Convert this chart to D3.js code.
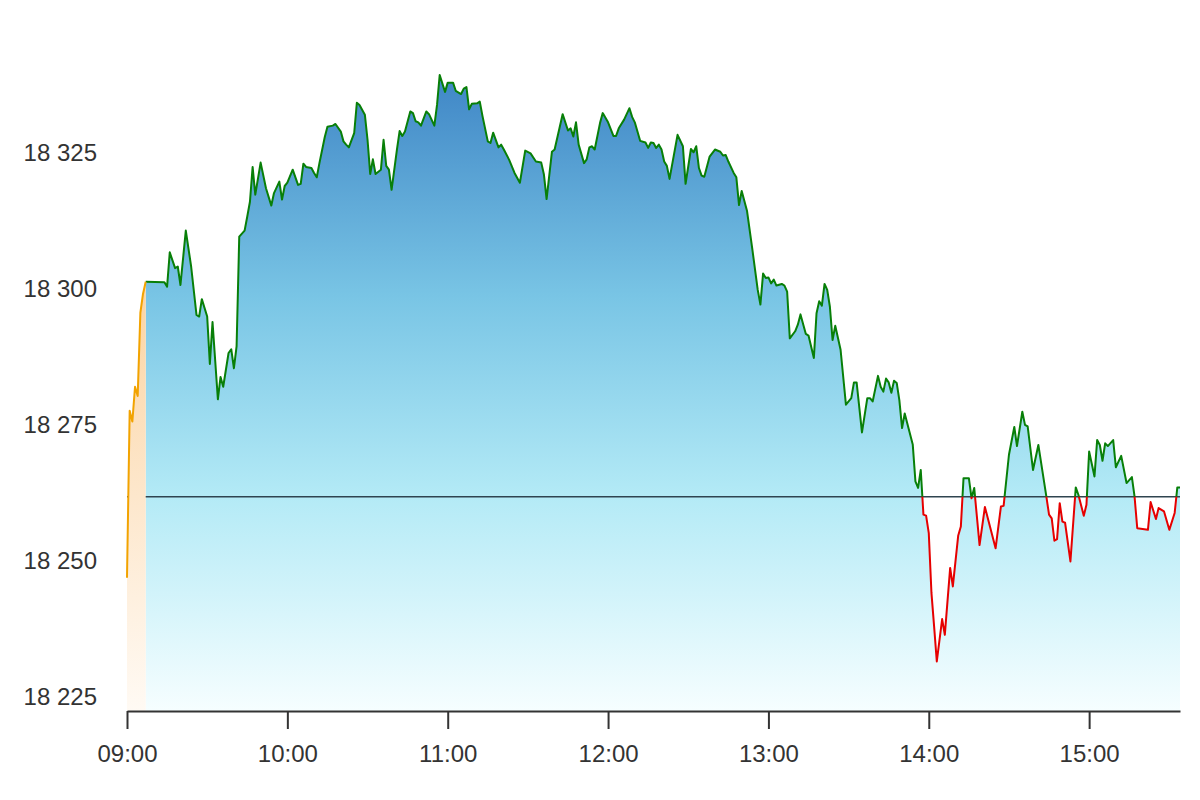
<!DOCTYPE html>
<html>
<head>
<meta charset="utf-8">
<script src="https://cdn.jsdelivr.net/npm/d3@7"></script>
<style>
  body { margin: 0; background: #fff; }
  svg text { font-family: "Liberation Sans", Arial, sans-serif; font-size: 24px; fill: #333; }
</style>
</head>
<body>
<svg id="chart" width="1200" height="800"></svg>
<script>
// Intraday index level, [minutes after the open, level]
var openTime = "09:00";
var lastMinute = 394;          // 15:34
var previousClose = 18261.8;
var yTickValues = [18225, 18250, 18275, 18300, 18325];
var xTickLabels = ["09:00", "10:00", "11:00", "12:00", "13:00", "14:00", "15:00"];

// Opening auction, drawn in orange
var preOpen = [
    [0, 18246.9], [1, 18277.6], [2, 18275.6], [3, 18282.0], [4, 18280.3],
    [5, 18295.6], [6, 18299.1], [7, 18301.3]
];

// Continuous trading
var session = [
    [7, 18301.3], [14, 18301.2], [15, 18300.4], [16, 18306.7], [18, 18303.8], [19, 18304.1],
    [20, 18300.7], [22, 18310.7], [24, 18304.1], [26, 18295.2], [27, 18294.9], [28, 18298.1],
    [30, 18294.9], [31, 18286.2], [32, 18293.9], [34, 18279.7], [35, 18283.8], [36, 18282.0],
    [38, 18288.2], [39, 18288.9], [40, 18285.4], [41, 18289.4], [42, 18309.6], [44, 18310.7],
    [45, 18313.3], [46, 18316.0], [47, 18322.4], [48, 18317.3], [50, 18323.2], [52, 18318.5],
    [54, 18315.3], [55, 18317.6], [57, 18319.7], [58, 18316.4], [59, 18318.9], [60, 18319.5],
    [62, 18321.9], [64, 18319.1], [65, 18319.3], [66, 18323.0], [67, 18322.4], [69, 18322.2],
    [70, 18321.3], [71, 18320.5], [72, 18323.1], [74, 18327.9], [75, 18329.8], [77, 18330.0],
    [78, 18330.3], [80, 18328.9], [81, 18327.1], [82, 18326.5], [83, 18326.0], [85, 18328.6],
    [86, 18334.2], [87, 18333.8], [89, 18332.0], [90, 18327.4], [91, 18321.1], [92, 18323.8],
    [93, 18321.1], [95, 18321.9], [96, 18327.4], [97, 18322.6], [98, 18321.9], [99, 18318.2],
    [101, 18325.6], [102, 18329.0], [103, 18328.1], [104, 18328.9], [106, 18332.6], [107, 18332.3],
    [108, 18330.8], [109, 18330.6], [110, 18330.0], [112, 18332.6], [113, 18332.1], [115, 18330.0],
    [116, 18333.8], [117, 18339.3], [119, 18336.2], [120, 18337.9], [122, 18337.9], [123, 18336.4],
    [125, 18335.8], [126, 18336.8], [127, 18337.1], [128, 18333.0], [129, 18334.0], [131, 18334.1],
    [132, 18334.4], [133, 18331.8], [135, 18327.1], [136, 18326.8], [137, 18328.7], [139, 18326.0],
    [140, 18326.5], [141, 18325.6], [143, 18323.7], [145, 18321.3], [147, 18319.5], [149, 18325.4],
    [151, 18324.9], [153, 18323.4], [155, 18323.2], [156, 18321.0], [157, 18316.5], [159, 18325.2],
    [160, 18325.6], [163, 18332.1], [165, 18329.1], [166, 18329.5], [167, 18328.0], [168, 18330.6],
    [169, 18326.5], [171, 18323.1], [172, 18323.8], [173, 18326.0], [174, 18326.2], [175, 18325.6],
    [177, 18330.5], [178, 18332.3], [180, 18330.6], [182, 18328.1], [183, 18328.1], [184, 18329.5],
    [186, 18331.1], [188, 18333.2], [189, 18331.6], [190, 18330.6], [192, 18327.2], [194, 18326.9],
    [195, 18325.9], [196, 18326.9], [197, 18326.8], [198, 18325.9], [199, 18326.5], [200, 18325.6],
    [201, 18323.4], [202, 18322.6], [203, 18320.2], [206, 18328.3], [208, 18326.2], [209, 18319.3],
    [211, 18325.7], [212, 18325.1], [213, 18326.2], [214, 18322.2], [215, 18320.8], [216, 18320.6],
    [218, 18324.3], [220, 18325.6], [222, 18325.2], [223, 18324.5], [224, 18324.6], [225, 18323.4],
    [227, 18321.3], [228, 18320.5], [229, 18315.4], [230, 18318.0], [232, 18314.3], [234, 18307.2],
    [236, 18299.8], [237, 18297.1], [238, 18302.8], [239, 18302.0], [240, 18302.1], [241, 18301.0],
    [242, 18301.7], [243, 18300.6], [245, 18300.9], [246, 18300.6], [247, 18299.5], [248, 18290.9],
    [250, 18292.2], [251, 18293.4], [252, 18295.3], [254, 18291.7], [255, 18291.4], [257, 18287.3],
    [258, 18295.5], [259, 18297.7], [260, 18296.9], [261, 18300.9], [262, 18299.8], [263, 18296.7],
    [264, 18290.6], [265, 18293.2], [267, 18288.8], [269, 18278.7], [271, 18279.9], [272, 18282.8],
    [273, 18282.8], [275, 18273.6], [277, 18279.9], [278, 18279.9], [279, 18279.3], [281, 18284.0],
    [282, 18282.0], [283, 18281.1], [284, 18283.5], [285, 18282.8], [286, 18280.9], [287, 18283.1],
    [288, 18282.7], [289, 18279.5], [290, 18274.4], [291, 18277.1], [294, 18271.4], [295, 18264.6],
    [296, 18263.4], [297, 18266.7], [298, 18258.5], [299, 18258.3], [300, 18255.1], [301, 18244.1],
    [302, 18237.9], [303, 18231.5], [305, 18239.3], [306, 18236.4], [308, 18248.7], [309, 18245.3],
    [311, 18254.6], [312, 18256.3], [313, 18265.2], [315, 18265.2], [316, 18261.5], [317, 18263.4],
    [319, 18252.9], [321, 18259.9], [325, 18252.3], [327, 18260.0], [328, 18260.1], [330, 18269.5],
    [332, 18274.6], [333, 18271.1], [335, 18277.4], [336, 18275.0], [337, 18274.7], [339, 18266.7],
    [341, 18271.3], [344, 18261.8], [345, 18258.5], [346, 18257.8], [347, 18253.7], [348, 18254.0],
    [349, 18260.6], [350, 18257.2], [351, 18257.0], [353, 18249.9], [355, 18263.5], [356, 18262.1],
    [358, 18258.3], [359, 18260.3], [360, 18270.1], [362, 18265.5], [363, 18272.2], [364, 18271.3],
    [365, 18268.4], [366, 18271.6], [367, 18271.1], [369, 18272.2], [370, 18267.2], [372, 18269.3],
    [374, 18264.3], [376, 18265.4], [377, 18261.8], [378, 18256.0], [382, 18255.7], [383, 18260.8],
    [385, 18257.7], [386, 18259.7], [388, 18259.1], [390, 18255.7], [392, 18258.8], [393, 18263.5],
    [394, 18263.5]
];

var margin = {top: 44, right: 20, bottom: 89, left: 127};
var width = 1200 - margin.left - margin.right;
var height = 800 - margin.top - margin.bottom;

var parseTime = d3.timeParse("%H:%M");
var openDate = parseTime(openTime);

function minuteToDate(minute) {
    return d3.timeMinute.offset(openDate, minute);
}

// Space as thousands separator: 18 325
var locale = d3.formatLocale({decimal: ".", thousands: " ", grouping: [3], currency: ["", ""]});
var formatLevel = locale.format(",.0f");

var x = d3.scaleTime().domain([openDate, minuteToDate(lastMinute)]).range([0, width]);
var y = d3.scaleLinear().domain([18222.4, 18345]).range([height, 0]);

var svg = d3.select("#chart")
  .append("g")
    .attr("transform", "translate(" + margin.left + "," + margin.top + ")");

var defs = svg.append("defs");

function addGradient(id, top, stops) {
    var grad = defs.append("linearGradient")
        .attr("id", id)
        .attr("gradientUnits", "userSpaceOnUse")
        .attr("x1", 0).attr("x2", 0)
        .attr("y1", top).attr("y2", height);
    stops.forEach(function(s) {
        grad.append("stop").attr("offset", s[0]).attr("stop-color", s[1]);
    });
}

addGradient("blueFill", y(d3.max(session, function(d) { return d[1]; })),
            [[0, "#3f86c6"], [0.35, "#79c5e5"], [0.66, "#b3eaf6"], [1, "#f6feff"]]);
addGradient("orangeFill", y(d3.max(preOpen, function(d) { return d[1]; })),
            [[0, "#fbd4a2"], [0.5, "#fde7cc"], [1, "#fffaf4"]]);

// Clip regions above / below the previous close
defs.append("clipPath").attr("id", "aboveClose")
  .append("rect")
    .attr("x", -5).attr("y", -margin.top)
    .attr("width", width + 10).attr("height", y(previousClose) + margin.top);
defs.append("clipPath").attr("id", "belowClose")
  .append("rect")
    .attr("x", -5).attr("y", y(previousClose))
    .attr("width", width + 10).attr("height", height - y(previousClose));

var area = d3.area()
    .x(function(d) { return x(minuteToDate(d[0])); })
    .y0(height)
    .y1(function(d) { return y(d[1]); });

var line = d3.line()
    .x(function(d) { return x(minuteToDate(d[0])); })
    .y(function(d) { return y(d[1]); });

svg.append("path")
    .datum(session)
    .attr("fill", "url(#blueFill)")
    .attr("d", area);

// Previous close reference line
svg.append("line")
    .attr("x1", 0).attr("x2", width)
    .attr("y1", y(previousClose)).attr("y2", y(previousClose))
    .attr("stroke", "#2f4450")
    .attr("stroke-width", 1.5);

svg.append("path")
    .datum(preOpen)
    .attr("fill", "url(#orangeFill)")
    .attr("d", area);

svg.append("path")
    .datum(session)
    .attr("clip-path", "url(#aboveClose)")
    .attr("fill", "none")
    .attr("stroke", "#087f08")
    .attr("stroke-width", 2)
    .attr("stroke-linejoin", "round")
    .attr("d", line);

svg.append("path")
    .datum(session)
    .attr("clip-path", "url(#belowClose)")
    .attr("fill", "none")
    .attr("stroke", "#e60000")
    .attr("stroke-width", 2)
    .attr("stroke-linejoin", "round")
    .attr("d", line);

svg.append("path")
    .datum(preOpen)
    .attr("fill", "none")
    .attr("stroke", "#f2a300")
    .attr("stroke-width", 2)
    .attr("stroke-linejoin", "round")
    .attr("d", line);

// Axes
var xAxis = d3.axisBottom(x)
    .tickValues(xTickLabels.map(parseTime))
    .tickFormat(d3.timeFormat("%H:%M"))
    .tickSize(18)
    .tickSizeOuter(0)
    .tickPadding(16);

var gx = svg.append("g")
    .attr("transform", "translate(0," + height + ")")
    .call(xAxis);
gx.select(".domain").attr("stroke", "#333").attr("stroke-width", 2);
gx.selectAll(".tick line").attr("stroke", "#333").attr("stroke-width", 2);

var yAxis = d3.axisLeft(y)
    .tickValues(yTickValues)
    .tickFormat(formatLevel)
    .tickSize(0)
    .tickPadding(30);

var gy = svg.append("g").call(yAxis);
gy.select(".domain").remove();
</script>
</body>
</html>
